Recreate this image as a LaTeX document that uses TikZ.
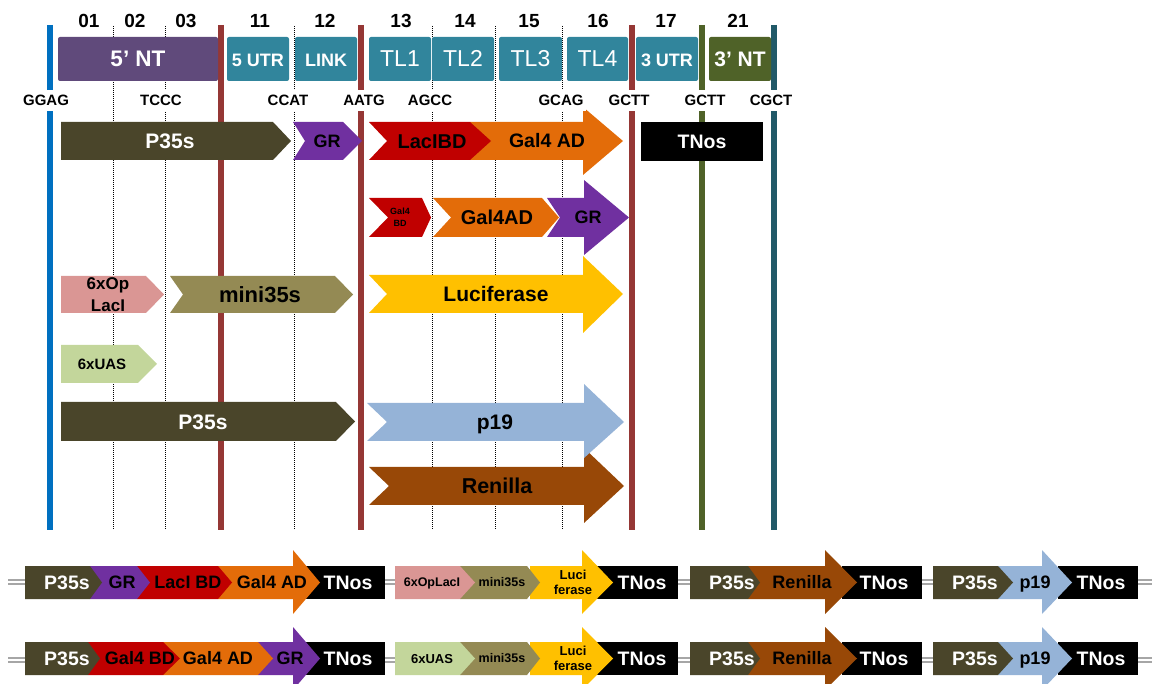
\documentclass[tikz,border=0pt]{standalone}
\usepackage{fontspec}
\setmainfont{Liberation Sans}
\pgfdeclarelayer{lines}
\pgfdeclarelayer{shapes}
\pgfsetlayers{lines,shapes,main}
\definecolor{cBlue}{HTML}{0070C0}
\definecolor{cMaroon}{HTML}{953735}
\definecolor{cOliveL}{HTML}{4F6228}
\definecolor{cTealL}{HTML}{215968}
\definecolor{cPurpleNT}{HTML}{604A7B}
\definecolor{cTeal}{HTML}{31859C}
\definecolor{cP35}{HTML}{4A452A}
\definecolor{cGR}{HTML}{7030A0}
\definecolor{cRed}{HTML}{C00000}
\definecolor{cOrange}{HTML}{E36C09}
\definecolor{cPink}{HTML}{DA9694}
\definecolor{cKhaki}{HTML}{948A54}
\definecolor{cGold}{HTML}{FFC000}
\definecolor{cLGreen}{HTML}{C3D69B}
\definecolor{cLBlue}{HTML}{95B3D7}
\definecolor{cBrown}{HTML}{984807}
\definecolor{cDbl}{HTML}{A6A6A6}
\tikzset{
  dotl/.style={line width=1pt, dash pattern=on 1pt off 1pt, black},
  vline/.style={line width=6pt},
}
\newcommand\fsz[1]{\fontsize{#1}{#1}\selectfont}
% pentagon: color, x0, xbody, xtip, ytop, ybot
\newcommand\Pent[6]{\begin{pgfonlayer}{shapes}\fill[#1] (#2,#5) -- (#3,#5) -- (#4,{(#5+#6)/2}) -- (#3,#6) -- (#2,#6) -- cycle;\end{pgfonlayer}}
% chevron: color, x0, xnotch, xbody, xtip, ytop, ybot
\newcommand\Chev[7]{\begin{pgfonlayer}{shapes}\fill[#1] (#2,#6) -- (#4,#6) -- (#5,{(#6+#7)/2}) -- (#4,#7) -- (#2,#7) -- (#3,{(#6+#7)/2}) -- cycle;\end{pgfonlayer}}
% block arrow: color, x0, xnotch, xshaft, xtip, ytop, ybot, headtop, headbot
\newcommand\Barr[9]{\begin{pgfonlayer}{shapes}\fill[#1] (#2,#6) -- (#4,#6) -- (#4,#8) -- (#5,{(#6+#7)/2}) -- (#4,#9) -- (#4,#7) -- (#2,#7) -- (#3,{(#6+#7)/2}) -- cycle;\end{pgfonlayer}}
% black rectangle: x0, x1, ytop, ybot
\newcommand\Rct[4]{\begin{pgfonlayer}{shapes}\fill[black] (#1,#3) rectangle (#2,#4);\end{pgfonlayer}}
% text: name, x, ycenter, size, colour, text
\newcommand\Tx[6]{\node[inner sep=0pt, anchor=base, text=#5, font=\bfseries\fsz{#4}] (#1) at (#2,{#3+0.358*#4}) {#6};}
% header box: name, x0, x1, colour, font, text
\newcommand\Hdr[6]{\begin{pgfonlayer}{shapes}\fill[#4, rounded corners=2pt] (#2,37) rectangle (#3,81);\end{pgfonlayer}
  \node[inner sep=0pt, anchor=base, text=white, font=#5] (#1) at ({(#2+#3)/2},67) {#6};}
% overhang label: name, x, text
\newcommand\Ovh[3]{\node[fill=white, inner xsep=2pt, inner ysep=5pt, anchor=base, font=\bfseries\fsz{15}] (#1) at (#2,{100.5+0.358*15}) {#3};}
\begin{document}
\begin{tikzpicture}[x=1pt,y=-1pt]
\useasboundingbox (0,0) rectangle (1152,684);
% ---------- vertical lines and backbone ----------
\begin{pgfonlayer}{lines}
\draw[vline, cBlue] (50,25) -- (50,530);
\foreach \x in {113,165,294,432,495,562} \draw[dotl] (\x,26) -- (\x,530);
\foreach \x in {221,361,632} \draw[vline, cMaroon] (\x,25) -- (\x,530);
\draw[vline, cOliveL] (702,25) -- (702,530);
\draw[vline, cTealL] (774,25) -- (774,530);
\foreach \y in {582,659.5} {
  \draw[line width=6pt, cDbl] (8,\y) -- (1152,\y);
  \draw[line width=2pt, white] (8,\y) -- (1152,\y);
}
\end{pgfonlayer}
% ---------- numbers ----------
\Tx{n01}{89}{21}{19}{black}{01}
\Tx{n02}{135}{21}{19}{black}{02}
\Tx{n03}{186}{21}{19}{black}{03}
\Tx{n11}{260}{21}{19}{black}{11}
\Tx{n12}{325}{21}{19}{black}{12}
\Tx{n13}{401}{21}{19}{black}{13}
\Tx{n14}{465}{21}{19}{black}{14}
\Tx{n15}{529}{21}{19}{black}{15}
\Tx{n16}{598}{21}{19}{black}{16}
\Tx{n17}{666}{21}{19}{black}{17}
\Tx{n21}{738}{21}{19}{black}{21}
% ---------- header boxes ----------
\Hdr{h5nt}{58}{218}{cPurpleNT}{\bfseries\fsz{22.5}}{5’ NT}
\Hdr{h5utr}{227}{289}{cTeal}{\bfseries\fsz{18}}{5 UTR}
\Hdr{hlink}{295}{357}{cTeal}{\bfseries\fsz{18}}{LINK}
\Hdr{htl1}{369}{431}{cTeal}{\fsz{23}}{TL1}
\Hdr{htl2}{432}{494}{cTeal}{\fsz{23}}{TL2}
\Hdr{htl3}{499}{562}{cTeal}{\fsz{23}}{TL3}
\Hdr{htl4}{567}{628}{cTeal}{\fsz{23}}{TL4}
\Hdr{h3utr}{636}{698}{cTeal}{\bfseries\fsz{18}}{3 UTR}
\Hdr{h3nt}{709}{771}{cOliveL}{\bfseries\fsz{21}}{3’ NT}
% ---------- overhangs ----------
\Ovh{o1}{46}{GGAG}
\Ovh{o2}{161}{TCCC}
\Ovh{o3}{288}{CCAT}
\Ovh{o4}{364}{AATG}
\Ovh{o5}{430}{AGCC}
\Ovh{o6}{561}{GCAG}
\Ovh{o7}{629}{GCTT}
\Ovh{o8}{705}{GCTT}
\Ovh{o9}{771}{CGCT}
% ---------- row 1 ----------
\Pent{cP35}{61}{273}{291}{122}{160}
\Chev{cGR}{293}{305}{343}{362}{122}{160}
\Barr{cOrange}{470}{470}{583}{623}{122}{160}{107}{175}
\Chev{cRed}{369}{387}{470}{491}{122}{160}
\Rct{641}{763}{122}{161}
\Tx{r1p35}{170}{141}{21}{white}{P35s}
\Tx{r1gr}{327}{141}{18}{black}{GR}
\Tx{r1laci}{432}{141}{20}{black}{LacIBD}
\Tx{r1gal}{547}{141}{19.5}{black}{Gal4 AD}
\Tx{r1tnos}{702}{141.5}{19.5}{white}{TNos}
% ---------- row 2 ----------
\Chev{cRed}{369}{388}{422}{431}{198}{237}
\Chev{cOrange}{433}{451}{542}{559}{198}{237}
\Barr{cGR}{547}{560}{584}{629}{198}{237}{180}{255}
\node[inner sep=0pt, align=center, font=\bfseries\fontsize{9}{12}\selectfont] (r2bd) at (400,217.5) {Gal4\\BD};
\Tx{r2gal}{497}{217.5}{20}{black}{Gal4AD}
\Tx{r2gr}{588}{217.5}{18}{black}{GR}
% ---------- row 3 ----------
\Pent{cPink}{61}{146}{164}{276}{313}
\Chev{cKhaki}{170}{183}{335}{353}{276}{313}
\Barr{cGold}{369}{387}{583}{623}{275}{313}{256}{333}
\node[inner sep=0pt, align=center, font=\bfseries\fontsize{17}{21.5}\selectfont] (r3op) at (108,294.5) {6xOp\\LacI};
\Tx{r3mini}{260}{294.5}{22}{black}{mini35s}
\Tx{r3luc}{496}{294}{21}{black}{Luciferase}
% ---------- row 4 ----------
\Pent{cLGreen}{61}{138}{157}{345}{383}
\Tx{r4uas}{102}{364}{15}{black}{6xUAS}
% ---------- rows 5, 6 ----------
\Pent{cP35}{61}{336}{355}{402}{441}
\Barr{cBrown}{369}{389}{584}{624}{467}{505}{448}{523}
\Barr{cLBlue}{367}{387}{584}{624}{403}{441}{384}{458}
\Tx{r5p35}{203}{421.5}{21}{white}{P35s}
\Tx{r5p19}{495}{422}{21}{black}{p19}
\Tx{r6ren}{497}{486}{21.5}{black}{Renilla}
% ---------- constructs, row A ----------
\Rct{300}{385}{566}{599}
\Barr{cOrange}{218}{218}{293}{320}{566}{599}{550}{614}
\Pent{cRed}{137}{218}{232}{566}{599}
\Pent{cGR}{90}{137}{150}{566}{599}
\Pent{cP35}{25}{90}{102}{566}{599}
\Tx{a1p35}{67}{582.5}{19.5}{white}{P35s}
\Tx{a1gr}{122}{582.5}{18}{black}{GR}
\Tx{a1laci}{188}{582.5}{18}{black}{LacI BD}
\Tx{a1gal}{272}{582.5}{18}{black}{Gal4 AD}
\Tx{a1tnos}{348}{582.5}{19.5}{white}{TNos}
\Rct{597}{678}{566}{599}
\Barr{cGold}{530}{530}{582}{613}{566}{599}{550}{614}
\Pent{cKhaki}{460}{527}{540}{566}{599}
\Pent{cPink}{395}{460}{475}{566}{599}
\Tx{a2op}{432}{582.5}{12.5}{black}{6xOpLacI}
\Tx{a2mini}{502}{582.5}{12.5}{black}{mini35s}
\node[inner sep=0pt, align=center, font=\bfseries\fontsize{13}{15}\selectfont] (a2luc) at (573,582.5) {Luci\\ferase};
\Tx{a2tnos}{642}{582.5}{19.5}{white}{TNos}
\Rct{842}{922}{566}{599}
\Barr{cBrown}{748}{748}{825}{857}{566}{599}{550}{614}
\Pent{cP35}{690}{748}{760}{566}{599}
\Tx{a3p35}{732}{582.5}{19.5}{white}{P35s}
\Tx{a3ren}{802}{582.5}{18}{black}{Renilla}
\Tx{a3tnos}{884}{582.5}{19.5}{white}{TNos}
\Rct{1058}{1138}{566}{599}
\Barr{cLBlue}{998}{998}{1042}{1072}{566}{599}{550}{614}
\Pent{cP35}{933}{998}{1013}{566}{599}
\Tx{a4p35}{975}{582.5}{19.5}{white}{P35s}
\Tx{a4p19}{1035}{582.5}{18}{black}{p19}
\Tx{a4tnos}{1101}{582.5}{19.5}{white}{TNos}
% ---------- constructs, row B ----------
\Rct{300}{385}{642}{675}
\Barr{cGR}{258}{258}{293}{320}{642}{675}{627}{690}
\Pent{cOrange}{163}{258}{273}{642}{675}
\Pent{cRed}{88}{163}{180}{642}{675}
\Pent{cP35}{25}{88}{100}{642}{675}
\Tx{b1p35}{67}{658.5}{19.5}{white}{P35s}
\Tx{b1bd}{140}{658.5}{18}{black}{Gal4 BD}
\Tx{b1gal}{218}{658.5}{18}{black}{Gal4 AD}
\Tx{b1gr}{290}{658.5}{18}{black}{GR}
\Tx{b1tnos}{348}{658.5}{19.5}{white}{TNos}
\Rct{597}{678}{642}{675}
\Barr{cGold}{530}{530}{582}{613}{642}{675}{627}{690}
\Pent{cKhaki}{460}{527}{540}{642}{675}
\Pent{cLGreen}{395}{460}{475}{642}{675}
\Tx{b2uas}{432}{658.5}{13}{black}{6xUAS}
\Tx{b2mini}{502}{658.5}{12.5}{black}{mini35s}
\node[inner sep=0pt, align=center, font=\bfseries\fontsize{13}{15}\selectfont] (b2luc) at (573,658.5) {Luci\\ferase};
\Tx{b2tnos}{642}{658.5}{19.5}{white}{TNos}
\Rct{842}{922}{642}{675}
\Barr{cBrown}{748}{748}{825}{857}{642}{675}{627}{690}
\Pent{cP35}{690}{748}{760}{642}{675}
\Tx{b3p35}{732}{658.5}{19.5}{white}{P35s}
\Tx{b3ren}{802}{658.5}{18}{black}{Renilla}
\Tx{b3tnos}{884}{658.5}{19.5}{white}{TNos}
\Rct{1058}{1138}{642}{675}
\Barr{cLBlue}{998}{998}{1042}{1072}{642}{675}{627}{690}
\Pent{cP35}{933}{998}{1013}{642}{675}
\Tx{b4p35}{975}{658.5}{19.5}{white}{P35s}
\Tx{b4p19}{1035}{658.5}{18}{black}{p19}
\Tx{b4tnos}{1101}{658.5}{19.5}{white}{TNos}
\end{tikzpicture}
\end{document}
